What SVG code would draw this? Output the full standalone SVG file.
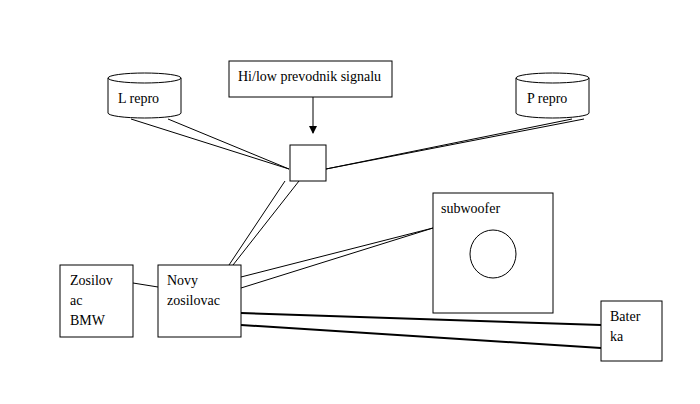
<svg xmlns="http://www.w3.org/2000/svg" width="700" height="404" viewBox="0 0 700 404">
<style>
.s{fill:#fff;stroke:#000;stroke-width:1}
.t{font-family:'Liberation Serif','Times New Roman','DejaVu Serif',serif;font-size:14px;fill:#000}
.c{stroke:#000;stroke-width:1;fill:none}
.k{stroke:#000;stroke-width:2;fill:none}
</style>
<defs><marker id="a" markerWidth="8" markerHeight="8" refX="7" refY="4" orient="auto" markerUnits="userSpaceOnUse"><path d="M0,0L8,4L0,8z"/></marker></defs>
<rect width="700" height="404" fill="#fff"/>
<g id="connectors">
<line class="c" x1="313" y1="97" x2="313" y2="133" marker-end="url(#a)"/>
<line class="c" x1="131" y1="119" x2="289" y2="169"/>
<line class="c" x1="168" y1="119" x2="289" y2="169"/>
<line class="c" x1="572" y1="119" x2="326" y2="169"/>
<line class="c" x1="584" y1="119" x2="326" y2="169"/>
<line class="c" x1="285" y1="181" x2="229" y2="265"/>
<line class="c" x1="299" y1="181" x2="233" y2="265"/>
<line class="c" x1="133" y1="283" x2="158" y2="287"/>
<line class="c" x1="241" y1="277" x2="433" y2="228"/>
<line class="c" x1="241" y1="288" x2="433" y2="228"/>
<line class="k" x1="241" y1="313" x2="601" y2="325"/>
<line class="k" x1="241" y1="325" x2="601" y2="348"/>
</g>
<g id="hilow"><rect class="s" x="229" y="61" width="163" height="36"/><text class="t" x="238" y="81">Hi/low prevodnik signalu</text></g>
<g id="lrepro"><path class="s" d="M108,78 A36.5,5 0 0 1 181,78 L181,113 A36.5,5 0 0 1 108,113 Z"/><path class="c" d="M108,78 A36.5,5 0 0 0 181,78"/><text class="t" x="118" y="103">L repro</text></g>
<g id="prepro"><path class="s" d="M516,78 A36.5,5 0 0 1 589,78 L589,113 A36.5,5 0 0 1 516,113 Z"/><path class="c" d="M516,78 A36.5,5 0 0 0 589,78"/><text class="t" x="527" y="103">P repro</text></g>
<g id="junction"><rect class="s" x="290" y="145" width="36" height="36"/></g>
<g id="bmw"><rect class="s" x="60" y="265" width="73" height="72"/><text class="t" x="70" y="285">Zosilov</text><text class="t" x="70" y="305">ac</text><text class="t" x="70" y="325">BMW</text></g>
<g id="novy"><rect class="s" x="158" y="265" width="83" height="72"/><text class="t" x="167" y="285">Novy</text><text class="t" x="167" y="305">zosilovac</text></g>
<g id="subwoofer"><rect class="s" x="433" y="193" width="120" height="120"/><text class="t" x="441" y="213">subwoofer</text><ellipse class="c" cx="493" cy="254" rx="23" ry="24"/></g>
<g id="baterka"><rect class="s" x="601" y="301" width="61" height="60"/><text class="t" x="610" y="321">Bater</text><text class="t" x="610" y="341">ka</text></g>
</svg>
